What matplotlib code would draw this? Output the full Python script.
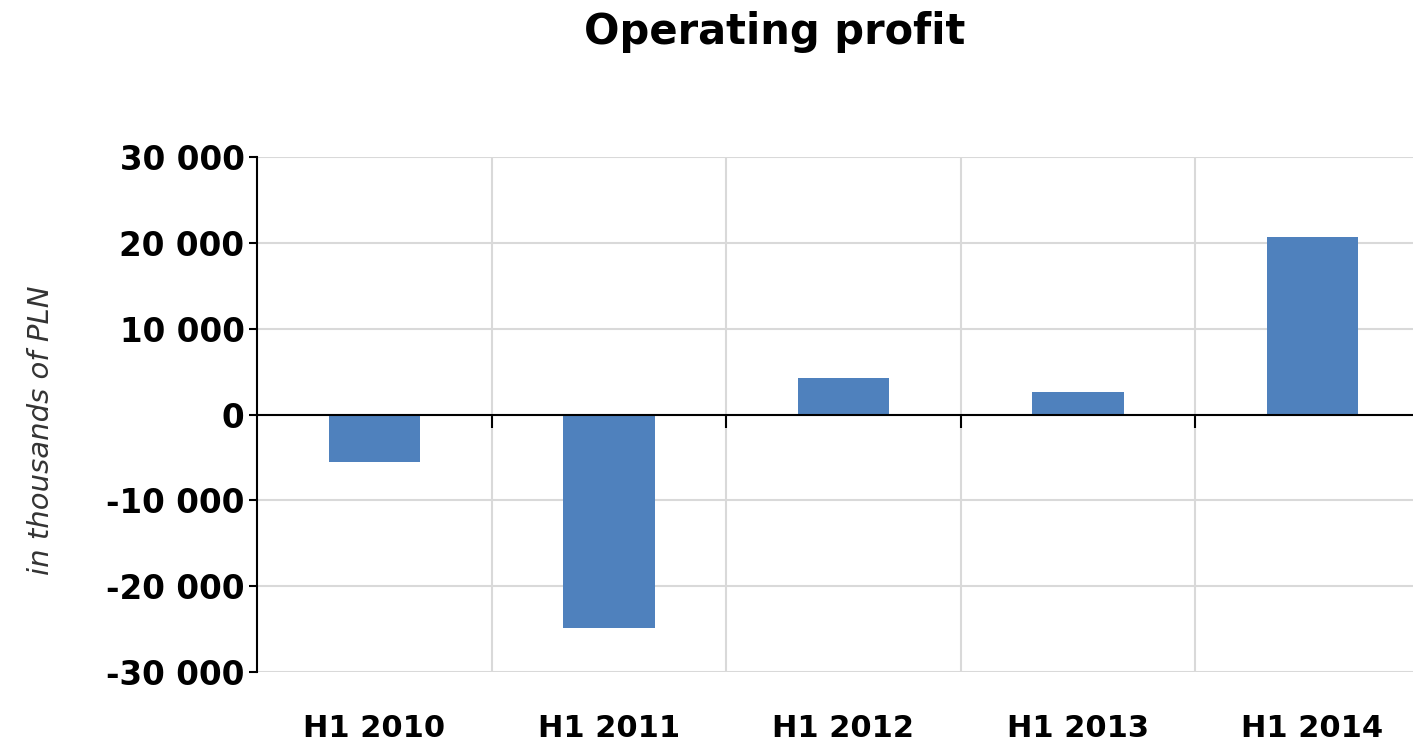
import matplotlib.pyplot as plt
from matplotlib.ticker import FuncFormatter, FixedLocator

periods = ['H1 2010', 'H1 2011', 'H1 2012', 'H1 2013', 'H1 2014']
operating_profit = [-5500, -24900, 4200, 2600, 20700]
y_ticks = [-30000, -20000, -10000, 0, 10000, 20000, 30000]

bar_color = '#4F81BD'
grid_color = '#D9D9D9'

fig = plt.figure(figsize=(14.13, 7.47), dpi=100)
ax = fig.add_axes([0.1819, 0.1004, 0.8298, 0.6894])

pos = list(range(len(periods)))
ax.bar(pos, operating_profit, width=0.39, color=bar_color, zorder=3)

ax.set_xlim(-0.5, len(periods) - 0.5)
ax.set_ylim(-30000, 30000)

# grid: horizontal at every 10 000, vertical between categories
ax.set_yticks(y_ticks)
ax.yaxis.set_major_formatter(FuncFormatter(lambda v, p: f'{int(v):,}'.replace(',', ' ')))
ax.grid(axis='y', color=grid_color, linewidth=1.5, zorder=0)
for b in [p + 0.5 for p in pos[:-1]]:
    ax.axvline(b, color=grid_color, linewidth=1.5, zorder=0)

# x axis sits at zero, with ticks between the categories
ax.spines['bottom'].set_position(('data', 0))
ax.spines['bottom'].set_linewidth(1.5)
ax.spines['bottom'].set_zorder(4)
ax.spines['top'].set_visible(False)
ax.spines['right'].set_visible(False)
ax.spines['left'].set_linewidth(1.5)
ax.set_xticks([])
ax.xaxis.set_minor_locator(FixedLocator([p + 0.5 for p in pos]))
ax.tick_params(axis='x', which='minor', direction='out', length=9, width=1.5)
ax.tick_params(axis='y', direction='out', length=6, width=1.5, pad=3, labelsize=23.5)
for lbl in ax.get_yticklabels():
    lbl.set_fontweight('bold')

# category labels at the bottom of the plot area
sec = ax.secondary_xaxis(0.0)
sec.set_xticks(pos)
sec.set_xticklabels(periods, fontsize=22, fontweight='bold')
sec.tick_params(length=0, pad=30)
sec.spines['bottom'].set_visible(False)

ax.set_ylabel('in thousands of PLN', fontsize=21, fontstyle='italic', color='#333333')
ax.yaxis.set_label_coords(-0.172, 0.47)

fig.text(0.548, 0.957, 'Operating profit', fontsize=30, fontweight='bold',
         ha='center', va='center')

fig.savefig('out.png', dpi=100)
